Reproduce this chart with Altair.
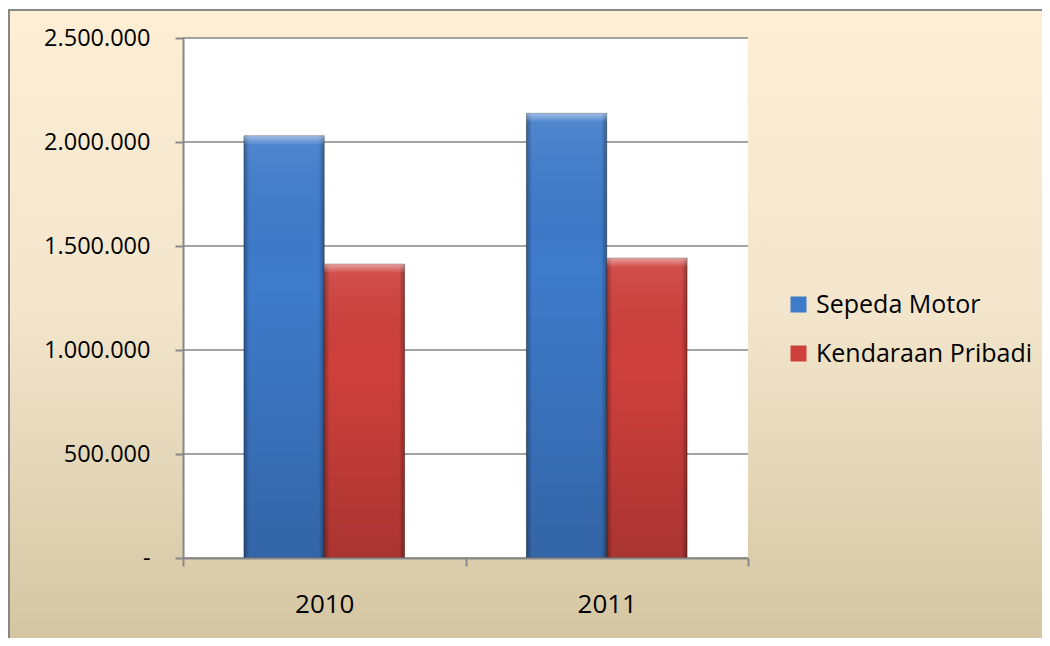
import altair as alt
import pandas as pd

years = ["2010", "2011"]
series = ["Sepeda Motor", "Kendaraan Pribadi"]
sepeda_motor = [2030000, 2138000]
kendaraan_pribadi = [1413000, 1442000]
y_ticks = [0, 500000, 1000000, 1500000, 2000000, 2500000]
colors = ["#3E7BCB", "#CF403C"]

rows = []
for i, y in enumerate(years):
    rows.append({"year": y, "series": series[0], "value": sepeda_motor[i]})
    rows.append({"year": y, "series": series[1], "value": kendaraan_pribadi[i]})
df = pd.DataFrame(rows)
grid_df = pd.DataFrame({"tick": y_ticks})
one = pd.DataFrame({"a": [0]})

W, H = 565, 520
FONT = "Open Sans"

yscale = alt.Scale(domain=[0, 2500000], nice=False)
xscale = alt.Scale(paddingInner=0, paddingOuter=0)
xoff = alt.XOffset("series:N", sort=series, scale=alt.Scale(paddingOuter=0.758, paddingInner=0))

ylabel = ("datum.value == 0 ? '-\u00a0\u00a0' : "
          "replace(replace(format(datum.value, ','), ',', '.'), ',', '.')")

bg = alt.Chart(one).mark_rect(
    fill=alt.LinearGradient(
        gradient="linear",
        stops=[alt.GradientStop(color="#FDEED4", offset=0),
               alt.GradientStop(color="#F3E6CC", offset=0.45),
               alt.GradientStop(color="#D3C4A0", offset=1)],
        x1=0, x2=0, y1=0, y2=1),
    stroke="#878787", strokeWidth=2,
).encode(x=alt.value(-174), x2=alt.value(W + 320), y=alt.value(-28), y2=alt.value(H + 100))

plot_bg = alt.Chart(one).mark_rect(fill="white").encode(
    x=alt.value(0), x2=alt.value(W), y=alt.value(0), y2=alt.value(H))

grid = alt.Chart(grid_df).mark_rule(color="#868686", strokeWidth=1.5).encode(
    y=alt.Y("tick:Q", scale=yscale),
    x=alt.value(0), x2=alt.value(W))

xenc = alt.X("year:N", sort=years, scale=xscale, title=None,
             axis=alt.Axis(tickBand="extent", tickSize=8, tickColor="#888888", tickWidth=2,
                           domainColor="#888888", domainWidth=2, labelAngle=0,
                           labelFont=FONT, labelFontSize=26, labelColor="black",
                           labelPadding=25, zindex=1))
yenc = alt.Y("value:Q", scale=yscale, title=None,
             axis=alt.Axis(values=y_ticks, grid=False, tickSize=8, tickColor="#888888", tickWidth=2,
                           domainColor="#888888", domainWidth=2,
                           labelFont=FONT, labelFontSize=23.5, labelColor="black",
                           labelPadding=25, labelExpr=ylabel, zindex=1))

bars = alt.Chart(df).mark_bar(stroke="rgba(0,0,0,0.3)", strokeWidth=1).encode(
    x=xenc, xOffset=xoff, y=yenc,
    color=alt.Color("series:N", sort=series,
                    scale=alt.Scale(domain=series, range=colors),
                    legend=alt.Legend(title=None, orient="none", legendX=603, legendY=254,
                                      symbolType="square", symbolSize=256, symbolStrokeWidth=0,
                                      labelFont=FONT, labelFontSize=25, labelColor="black",
                                      labelLimit=0, labelOffset=5, rowPadding=23, padding=0)))

shade_v = alt.Chart(df).mark_bar(
    fill=alt.LinearGradient(
        gradient="linear",
        stops=[alt.GradientStop(color="rgba(255,255,255,0.10)", offset=0),
               alt.GradientStop(color="rgba(0,0,0,0.0)", offset=0.35),
               alt.GradientStop(color="rgba(0,0,0,0.18)", offset=1)],
        x1=0, x2=0, y1=0, y2=1)
).encode(x=alt.X("year:N", sort=years, scale=xscale), xOffset=xoff,
         y=alt.Y("value:Q", scale=yscale))

shade_h = alt.Chart(df).mark_bar(
    fill=alt.LinearGradient(
        gradient="linear",
        stops=[alt.GradientStop(color="rgba(0,0,0,0.30)", offset=0),
               alt.GradientStop(color="rgba(0,0,0,0.0)", offset=0.07),
               alt.GradientStop(color="rgba(0,0,0,0.0)", offset=0.93),
               alt.GradientStop(color="rgba(0,0,0,0.30)", offset=1)],
        x1=0, x2=1, y1=0, y2=0)
).encode(x=alt.X("year:N", sort=years, scale=xscale), xOffset=xoff,
         y=alt.Y("value:Q", scale=yscale))

top_strip = alt.Chart(df).mark_bar(
    y2Offset=9,
    fill=alt.LinearGradient(
        gradient="linear",
        stops=[alt.GradientStop(color="rgba(255,255,255,0.45)", offset=0),
               alt.GradientStop(color="rgba(255,255,255,0.0)", offset=1)],
        x1=0, x2=0, y1=0, y2=1)
).encode(x=alt.X("year:N", sort=years, scale=xscale), xOffset=xoff,
         y=alt.Y("value:Q", scale=yscale), y2=alt.Y2("value:Q"))

chart = alt.layer(bg, plot_bg, grid, bars, shade_v, shade_h, top_strip).properties(
    width=W, height=H,
    autosize=alt.AutoSizeParams(type="none"),
    padding={"left": 175, "top": 30, "right": 294, "bottom": 80},
    background="white",
).configure_view(stroke=None)

chart.save("out.html", embed_options={"renderer": "svg", "actions": False})
